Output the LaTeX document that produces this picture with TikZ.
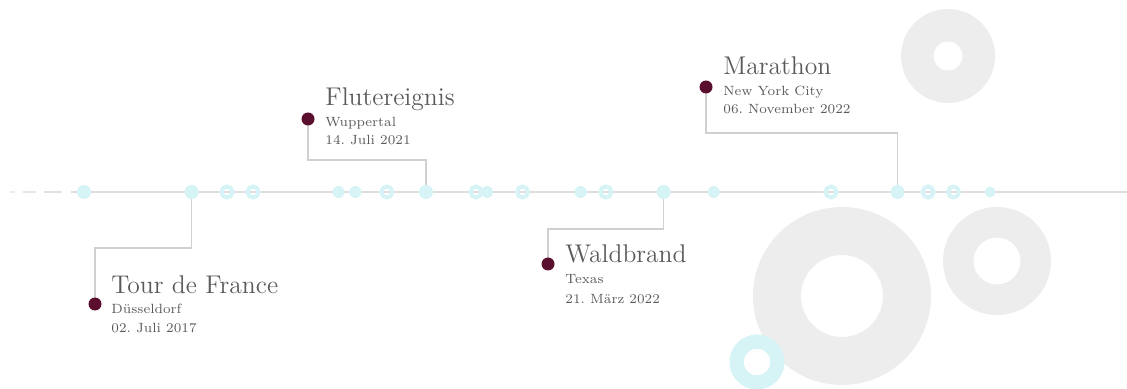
\documentclass[tikz,border=0pt]{standalone}
\usepackage{fontspec}
\frenchspacing
\definecolor{cyanc}{HTML}{D6F3F5}
\definecolor{grayc}{HTML}{EDEDED}
\definecolor{maroonc}{HTML}{5A0F2E}
\definecolor{textc}{HTML}{5A5A5A}
\definecolor{linec}{HTML}{DEDEDE}
\definecolor{connc}{HTML}{D0D0D0}
\pgfdeclarelayer{bg}
\pgfdeclarelayer{lines}
\pgfsetlayers{bg,lines,main}
\begin{document}
\begin{tikzpicture}[x=0.5pt,y=-0.5pt,
  tdot/.style={circle,fill=cyanc,inner sep=0pt,minimum size=#1},
  tdot/.default=7pt,
  tring/.style={circle,draw=cyanc,line width=2pt,inner sep=0pt,minimum size=5.5pt},
  edot/.style={circle,fill=maroonc,inner sep=0pt,minimum size=6.5pt},
  ttl/.style={anchor=base west,inner sep=0pt,text=textc,font=\fontsize{12.8}{15}\selectfont},
  sub/.style={anchor=base west,inner sep=0pt,text=textc,font=\fontsize{6.7}{8}\selectfont},
  tline/.style={draw=linec,line width=0.75pt},
  conn/.style={draw=connc,line width=0.6pt},
  bigring/.style={draw=grayc}
]
\useasboundingbox (0,0) rectangle (1127,389);
% background rings
\begin{pgfonlayer}{bg}
\draw[bigring,line width=16.25pt] (948,56) circle (30.75);
\draw[bigring,line width=24pt] (842,296) circle (65);
\draw[bigring,line width=15.25pt] (997,261) circle (38.75);
\draw[draw=cyanc,line width=7.1pt] (757,362) circle (20.4);
\end{pgfonlayer}
% timeline dots
\node[tdot] (d1) at (84,192) {};
\node[tdot] (c1) at (191.5,192) {};
\node[tring] (r1) at (227,192) {};
\node[tring] (r2) at (253,192) {};
\node[tdot=6pt] (d2) at (338.6,192) {};
\node[tdot=6pt] (d3) at (355.4,192) {};
\node[tring] (r3) at (386.8,192) {};
\node[tdot] (c2) at (426,192) {};
\node[tring] (r4) at (476,192) {};
\node[tdot=6pt] (d4) at (487,192) {};
\node[tring] (r5) at (522.5,192) {};
\node[tdot=6pt] (d5) at (580.6,192) {};
\node[tring] (r6) at (605.9,192) {};
\node[tdot] (c3) at (663.5,192) {};
\node[tdot=6pt] (d6) at (713.7,192) {};
\node[tring] (r7) at (831,192) {};
\node[tdot] (c4) at (897.5,192) {};
\node[tring] (r8) at (928,192) {};
\node[tring] (r9) at (953.5,192) {};
\node[tdot=5.5pt] (d7) at (990,192) {};
\coordinate (lend) at (1127,192);
\coordinate (ls1) at (10,192); \coordinate (le1) at (15,192);
\coordinate (ls2) at (23,192); \coordinate (le2) at (36,192);
\coordinate (ls3) at (44,192); \coordinate (le3) at (62,192);
\coordinate (ls4) at (71,192);
% events
\node[edot] (e1) at (95,304) {};
\node[ttl] (t1) at (111,293) {Tour de France};
\node[sub] (s1a) at (111,313) {Düsseldorf};
\node[sub] (s1b) at (111,332) {02. Juli 2017};
\coordinate (k1) at (95,248);

\node[edot] (e2) at (308,119) {};
\node[ttl] (t2) at (325,106) {Flutereignis};
\node[sub] (s2a) at (325,127) {Wuppertal};
\node[sub] (s2b) at (325,145) {14. Juli 2021};
\coordinate (k2) at (308,160);

\node[edot] (e3) at (548,264) {};
\node[ttl] (t3) at (565,263) {Waldbrand};
\node[sub] (s3a) at (565,284) {Texas};
\node[sub] (s3b) at (565,303) {21. März 2022};
\coordinate (k3) at (548,229);

\node[edot] (e4) at (706,87) {};
\node[ttl] (t4) at (723,75) {Marathon};
\node[sub] (s4a) at (723,96) {New York City};
\node[sub] (s4b) at (723,114) {06. November 2022};
\coordinate (k4) at (706,133);

\begin{pgfonlayer}{lines}
\draw[tline] (ls4) -- (lend);
\draw[tline,draw=linec!60] (ls1) -- (le1);
\draw[tline,draw=linec!75] (ls2) -- (le2);
\draw[tline,draw=linec!90] (ls3) -- (le3);
\draw[conn] (c1.center) |- (k1) -- (e1.center);
\draw[conn] (c2.center) |- (k2) -- (e2.center);
\draw[conn] (c3.center) |- (k3) -- (e3.center);
\draw[conn] (c4.center) |- (k4) -- (e4.center);
\end{pgfonlayer}
\end{tikzpicture}
\end{document}
